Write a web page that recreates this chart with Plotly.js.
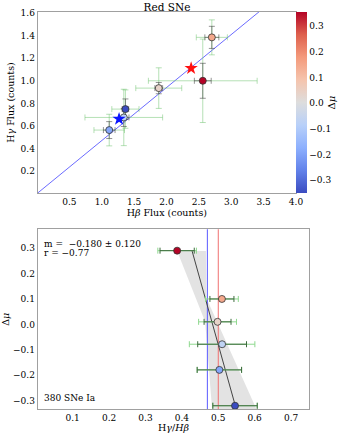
<!DOCTYPE html>
<html>
<head>
<meta charset="utf-8">
<script src="https://cdn.plot.ly/plotly-3.0.1.min.js"></script>
<style>
  html, body { margin: 0; padding: 0; background: #fff; }
  #chart { width: 345px; height: 433px; }
</style>
</head>
<body>
<div id="chart"></div>
<script>
// SNe in order: dark red, orange, tan, light blue, mid blue, dark blue
var hbFlux = [2.56, 2.70, 1.88, 1.34, 1.115, 1.365];
var hgFlux = [1.00, 1.385, 0.935, 0.675, 0.563, 0.749];
var deltaMu = [0.29, 0.10, 0.01, -0.078, -0.179, -0.32];

// total (green) and statistical (grey) errors on the fluxes
var hbErrTot = [0.84, 0.24, 0.355, 0.60, 0.236, 0.21];
var hgErrTot = [0.37, 0.155, 0.18, 0.25, 0.14, 0.17];
var hbErrStat = [0.13, 0.108, 0.06, 0.08, 0.09, 0.05];
var hgErrStat = [0.155, 0.098, 0.05, 0.08, 0.075, 0.09];

// stars
var starHb = [1.267, 2.38];
var starHg = [0.661, 1.111];
var starColors = ['#0a14ff', '#ff1010'];

// reference ratio lines
var ratioBlue = 0.47;
var ratioRed = 0.50;
var diagX = [0, 4];

// bottom panel
var ratio = [0.387, 0.51, 0.498, 0.5105, 0.503, 0.546];
var ratioErrTot = [0.053, 0.045, 0.052, 0.09, 0.061, 0.061];
var ratioErrStat = [0.047, 0.033, 0.037, 0.067, 0.061, 0.061];

var fitRatio = [0.428, 0.548];
var fitMu = [0.289, -0.326];

var bandRatio = [0.387, 0.466, 0.467, 0.605, 0.483, 0.464, 0.387];
var bandMu = [0.289, 0.289, 0.105, -0.334, -0.334, 0.01, 0.289];

// colour limits: markers use the data range, the colour bar a wider one
var markerMin = -0.31, markerMax = 0.27;
var barMin = -0.35, barMax = 0.355;

var coolwarm = [
  [0, 'rgb(59,76,192)'],
  [0.125, 'rgb(98,130,234)'],
  [0.25, 'rgb(141,176,254)'],
  [0.375, 'rgb(184,208,249)'],
  [0.5, 'rgb(221,221,221)'],
  [0.625, 'rgb(245,196,173)'],
  [0.75, 'rgb(244,154,123)'],
  [0.875, 'rgb(222,96,77)'],
  [1, 'rgb(180,4,38)']
];

var FONT = 'DejaVu Serif';
var hidden = {size: 1, color: 'rgba(0,0,0,0)'};

var diagY = diagX.map(function (x) { return ratioBlue * x; });

var traces = [
  // top panel
  {x: diagX, y: diagY, mode: 'lines', line: {color: '#6b6bff', width: 1},
   xaxis: 'x', yaxis: 'y', hoverinfo: 'skip'},
  {x: hbFlux, y: hgFlux, mode: 'markers', marker: hidden,
   error_x: {type: 'data', array: hbErrTot, color: 'rgba(110,195,110,0.5)', thickness: 1, width: 3},
   error_y: {type: 'data', array: hgErrTot, color: 'rgba(110,195,110,0.5)', thickness: 1, width: 3},
   xaxis: 'x', yaxis: 'y'},
  {x: hbFlux, y: hgFlux, mode: 'markers', marker: hidden,
   error_x: {type: 'data', array: hbErrStat, color: 'rgba(60,60,60,0.55)', thickness: 1, width: 3},
   error_y: {type: 'data', array: hgErrStat, color: 'rgba(60,60,60,0.55)', thickness: 1, width: 3},
   xaxis: 'x', yaxis: 'y'},
  // carries the colour bar only
  {x: hbFlux, y: hgFlux, mode: 'markers',
   marker: {size: 1, opacity: 0, color: deltaMu, colorscale: coolwarm, cmin: barMin, cmax: barMax,
            showscale: true,
            colorbar: {x: 296 / 345, xanchor: 'left', xpad: 0, ypad: 0, thickness: 11,
                       len: 181 / 433, lenmode: 'fraction', y: 1 - 102.5 / 433, yanchor: 'middle',
                       outlinewidth: 0, tick0: 0, dtick: 0.1, tickformat: '.1f',
                       ticks: '', ticklabelpadding: 2,
                       tickfont: {family: FONT, size: 9, color: '#000'},
                       title: {text: 'Δ<i>μ</i>', side: 'right',
                               font: {family: FONT, size: 10, color: '#000'}}}},
   xaxis: 'x', yaxis: 'y', hoverinfo: 'skip'},
  {x: hbFlux, y: hgFlux, mode: 'markers',
   marker: {size: 7, color: deltaMu, colorscale: coolwarm, cmin: markerMin, cmax: markerMax,
            line: {color: '#333', width: 0.8}, showscale: false},
   xaxis: 'x', yaxis: 'y'},
  {x: starHb, y: starHg, mode: 'markers',
   marker: {symbol: 'star', size: 10, color: starColors, line: {width: 0}},
   xaxis: 'x', yaxis: 'y'},

  // bottom panel
  {x: bandRatio, y: bandMu, mode: 'lines', fill: 'toself',
   fillcolor: 'rgba(200,200,200,0.5)', line: {width: 0},
   xaxis: 'x2', yaxis: 'y2', hoverinfo: 'skip'},
  {x: [ratioBlue, ratioBlue], y: [-0.4, 0.4], mode: 'lines',
   line: {color: '#5a5aff', width: 1}, xaxis: 'x2', yaxis: 'y2'},
  {x: [ratioRed, ratioRed], y: [-0.4, 0.4], mode: 'lines',
   line: {color: '#f07070', width: 1}, xaxis: 'x2', yaxis: 'y2'},
  {x: fitRatio, y: fitMu, mode: 'lines', line: {color: '#444', width: 1},
   xaxis: 'x2', yaxis: 'y2'},
  {x: ratio, y: deltaMu, mode: 'markers', marker: hidden,
   error_x: {type: 'data', array: ratioErrTot, color: '#8fd88f', thickness: 1, width: 3},
   xaxis: 'x2', yaxis: 'y2'},
  {x: ratio, y: deltaMu, mode: 'markers', marker: hidden,
   error_x: {type: 'data', array: ratioErrStat, color: '#3d6b3d', thickness: 1, width: 3},
   xaxis: 'x2', yaxis: 'y2'},
  {x: ratio, y: deltaMu, mode: 'markers',
   marker: {size: 7, color: deltaMu, colorscale: coolwarm, cmin: markerMin, cmax: markerMax,
            line: {color: '#333', width: 0.8}, showscale: false},
   xaxis: 'x2', yaxis: 'y2'}
];

var axisBase = {
  showgrid: false, zeroline: false, showline: true, mirror: true,
  linecolor: '#a0a0a0', linewidth: 1, ticks: '',
  tickfont: {family: FONT, size: 9, color: '#000'}
};

function ax(extra) {
  return Object.assign({}, axisBase, extra);
}

var layout = {
  width: 345, height: 433,
  margin: {l: 0, r: 0, t: 0, b: 0},
  paper_bgcolor: '#fff', plot_bgcolor: '#fff',
  showlegend: false,
  font: {family: FONT, color: '#000'},
  title: {text: 'Red SNe', x: 167 / 345, xanchor: 'center', y: 1 - 7 / 433, yanchor: 'middle',
          font: {family: FONT, size: 10.5, color: '#000'}},
  xaxis: ax({domain: [37.7 / 345, 296 / 345], anchor: 'y', range: [0.01, 4.0],
             tickvals: [0.5, 1.0, 1.5, 2.0, 2.5, 3.0, 3.5, 4.0], tickformat: '.1f',
             title: {text: 'H<i>β</i> Flux (counts)', standoff: 2,
                     font: {family: FONT, size: 9.5, color: '#000'}}}),
  yaxis: ax({domain: [1 - 193 / 433, 1 - 12 / 433], anchor: 'x', range: [0.005, 1.61],
             tickvals: [0.2, 0.4, 0.6, 0.8, 1.0, 1.2, 1.4, 1.6], tickformat: '.1f',
             title: {text: 'H<i>γ</i> Flux (counts)', standoff: 4,
                     font: {family: FONT, size: 9.5, color: '#000'}}}),
  xaxis2: ax({domain: [37.7 / 345, 309.3 / 345], anchor: 'y2', range: [0.004, 0.75],
              tickvals: [0.1, 0.2, 0.3, 0.4, 0.5, 0.6, 0.7], tickformat: '.1f',
              title: {text: 'H<i>γ</i>/<i>Hβ</i>', standoff: 2,
                      font: {family: FONT, size: 9.5, color: '#000'}}}),
  yaxis2: ax({domain: [1 - 409.3 / 433, 1 - 229.3 / 433], anchor: 'x2', range: [-0.334, 0.374],
              tickvals: [-0.3, -0.2, -0.1, 0.0, 0.1, 0.2, 0.3], tickformat: '.1f',
              title: {text: 'Δ<i>μ</i>', standoff: 4,
                      font: {family: FONT, size: 9.5, color: '#000'}}}),
  annotations: [
    {text: 'm =  −0.180 ± 0.120', xref: 'paper', yref: 'paper', x: 42 / 345, y: 1 - 243.7 / 433,
     xanchor: 'left', yanchor: 'middle', showarrow: false, font: {family: FONT, size: 9, color: '#000'}},
    {text: 'r = −0.77', xref: 'paper', yref: 'paper', x: 42 / 345, y: 1 - 253.3 / 433,
     xanchor: 'left', yanchor: 'middle', showarrow: false, font: {family: FONT, size: 9, color: '#000'}},
    {text: '380 SNe Ia', xref: 'paper', yref: 'paper', x: 42 / 345, y: 1 - 397.7 / 433,
     xanchor: 'left', yanchor: 'middle', showarrow: false, font: {family: FONT, size: 9, color: '#000'}}
  ]
};

Plotly.newPlot('chart', traces, layout, {displayModeBar: false, staticPlot: true});
</script>
</body>
</html>
